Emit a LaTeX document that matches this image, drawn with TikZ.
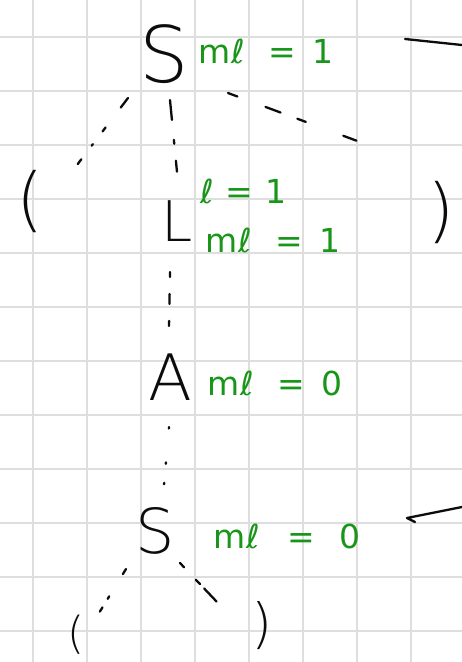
\documentclass[tikz,border=0pt]{standalone}
\usepackage{fontspec}
\setmainfont{DejaVu Sans}
\IfFontExistsTF{DejaVu Sans ExtraLight}{\newfontfamily\hand{DejaVu Sans ExtraLight}}{\newfontfamily\hand{DejaVu Sans}}
\usetikzlibrary{calc}
\definecolor{ink}{RGB}{12,12,12}
\definecolor{pen}{RGB}{25,150,25}
\definecolor{gridc}{RGB}{222,222,222}
\newcommand\mlv[1]{m\kern1ptℓ\hspace{24pt}=\hspace{16pt}#1}
\begin{document}
\begin{tikzpicture}[x=1pt,y=-1pt,
  sym/.style={inner sep=0pt, anchor=base, text=ink, font=\hand\fontsize{#1}{#1}\selectfont},
  ann/.style={inner sep=0pt, anchor=base west, text=pen, font=\fontsize{33}{33}\selectfont},
  edge/.style={draw=ink, line width=2.3pt, line cap=round, line join=round},
  gridline/.style={draw=gridc, line width=1.5pt}]
\useasboundingbox (0,0) rectangle (462,662);
\clip (0,0) rectangle (462,662);
\fill[white] (0,0) rectangle (462,662);
\foreach \x in {33,87,...,411} \draw[gridline] (\x,0) -- (\x,662);
\foreach \y in {37,91,...,631} \draw[gridline] (0,\y) -- (462,\y);

\node[sym=78] (s1) at (164,82) {S};
\node[sym=70] (lp1) at (30,223) {(};
\node[sym=70] (rp1) at (441,234) {)};
\node[sym=56] (l) at (177,241) {L};
\node[sym=64] (a) at (170,400) {A};
\node[sym=62] (s2) at (155,553) {S};
\node[sym=44] (lp2) at (76,648) {(};
\node[sym=54] (rp2) at (262,642) {)};

\node[ann] (t1) at (198,63) {\mlv{1}};
\node[ann] (t2) at (200,203) {ℓ\hspace{12pt}=\hspace{12pt}1};
\node[ann] (t3) at (205,252) {\mlv{1}};
\node[ann] (t4) at (207,395) {\mlv{0}};
\node[ann] (t5) at (213,548) {m\kern1ptℓ\hspace{28pt}=\hspace{24pt}0};

\draw[edge, dash pattern=on 12pt off 25pt on 5pt off 16pt on 2pt off 17pt on 6pt off 60pt]
  ($(s1.base)+(-36,16)$) -- ($(lp1.base)+(47,-58)$);
\draw[edge, dash pattern=on 20pt off 20pt on 4pt off 17pt on 11pt off 60pt]
  ($(s1.base)+(6,18)$) -- ($(l.base)+(0,-69)$);
\draw[edge, dash pattern=on 10pt off 30pt on 16pt off 18pt on 9pt off 40pt on 14pt off 60pt]
  ($(s1.base)+(64,11)$) -- ($(rp1.base)+(-81,-92)$);
\draw[edge, dash pattern=on 5pt off 17pt on 10pt off 17pt on 5pt off 60pt]
  ($(l.base)+(-7,31)$) -- ($(a.base)+(-1,-72)$);
\draw[edge, dash pattern=on 1.5pt off 34pt on 1.5pt off 19pt on 1.5pt off 60pt]
  ($(a.base)+(-1,27)$) -- ($(s2.base)+(9,-68)$);
\draw[edge, dash pattern=on 6pt off 26pt on 3pt off 10pt on 5pt off 60pt]
  ($(s2.base)+(-29,16)$) -- ($(lp2.base)+(23,-35)$);
\draw[edge, dash pattern=on 6pt off 17pt on 6pt off 6pt on 18pt off 60pt]
  ($(s2.base)+(25,10)$) -- ($(rp2.base)+(-45,-40)$);

\coordinate (m1a) at (405,39);
\coordinate (m1b) at (462,45);
\draw[edge] (m1a) -- (m1b);
\coordinate (m2a) at (462,507);
\coordinate (m2b) at (407,518);
\coordinate (m2c) at (415,522);
\draw[edge] (m2a) -- (m2b) -- (m2c);
\end{tikzpicture}
\end{document}
